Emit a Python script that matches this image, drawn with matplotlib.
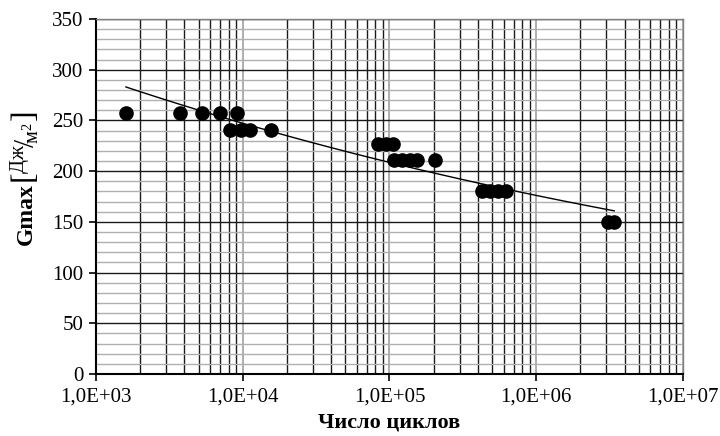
import matplotlib.pyplot as plt
import numpy as np
from matplotlib.ticker import LogLocator, MultipleLocator, FixedFormatter, FixedLocator

plt.rcParams['font.family'] = ['Liberation Serif', 'DejaVu Serif']
plt.rcParams['mathtext.fontset'] = 'custom'
plt.rcParams['mathtext.rm'] = 'Liberation Serif'
plt.rcParams['mathtext.bf'] = 'Liberation Serif:bold'
plt.rcParams['mathtext.it'] = 'Liberation Serif:italic'

# число циклов и Gmax
cycles = [1600, 3730, 5260, 7050, 9200,
          8170, 9800, 11200, 15700,
          83000, 94000, 106000,
          108000, 122000, 137000, 153000, 205000,
          430000, 487000, 551000, 625000,
          3090000, 3400000]
gmax = [257, 257, 257, 257, 257,
        241, 241, 241, 241,
        227, 227, 227,
        211, 211, 211, 211, 211,
        180, 180, 180, 180,
        150, 150]

x_ticks = [1e3, 1e4, 1e5, 1e6, 1e7]
x_labels = ['1,0E+03', '1,0E+04', '1,0E+05', '1,0E+06', '1,0E+07']

fig = plt.figure(figsize=(7.2, 4.36), dpi=100)
ax = fig.add_axes([0.1333, 0.1422, 0.8153, 0.8142])

ax.set_xscale('log')
ax.set_xlim(1e3, 1e7)
ax.set_ylim(0, 350)

# степенная линия тренда
lx = np.log(cycles)
ly = np.log(gmax)
b, a = np.polyfit(lx, ly, 1)
xt = np.logspace(np.log10(min(cycles)), np.log10(max(cycles)), 100)
ax.plot(xt, np.exp(a) * xt ** b, color='black', lw=1.0, zorder=3)

ax.plot(cycles, gmax, 'o', color='black', ms=9.5, zorder=4)

ax.xaxis.set_major_locator(FixedLocator(x_ticks))
ax.xaxis.set_major_formatter(FixedFormatter(x_labels))
ax.xaxis.set_minor_locator(LogLocator(base=10, subs=np.arange(2, 10)))
ax.xaxis.set_minor_formatter(FixedFormatter([]))
ax.yaxis.set_major_locator(MultipleLocator(50))
ax.yaxis.set_minor_locator(MultipleLocator(10))

ax.grid(which='minor', axis='x', color='#1a1a1a', lw=1.0)
ax.grid(which='major', axis='x', color='#a0a0a0', lw=1.2)
ax.grid(which='minor', axis='y', color='#b0b0b0', lw=1.0)
ax.grid(which='major', axis='y', color='#1a1a1a', lw=1.0)
ax.set_axisbelow(True)

for s in ax.spines.values():
    s.set_color('#808080')
    s.set_linewidth(1.0)
ax.spines['left'].set_color('black')
ax.spines['bottom'].set_color('black')
ax.spines['left'].set_linewidth(1.5)
ax.spines['bottom'].set_linewidth(1.5)

ax.tick_params(which='major', direction='out', length=5, width=1.2, labelsize=15, pad=4)
ax.tick_params(which='minor', length=0)
ax.tick_params(axis='x', pad=5)

ax.set_xlabel('Число циклов', fontsize=16, fontweight='bold', labelpad=4)

# подпись оси Y из двух частей
fig.text(0.036, 0.51, 'Gmax', rotation=90, fontsize=17, fontweight='bold',
         ha='center', va='center')
fig.text(0.036, 0.662, r'$\left[{}^{\mathrm{Дж}}\!/\!{}_{\mathrm{м}^{2}}\right]$',
         rotation=90, fontsize=21, ha='center', va='center')

fig.savefig('out.png', dpi=100)
